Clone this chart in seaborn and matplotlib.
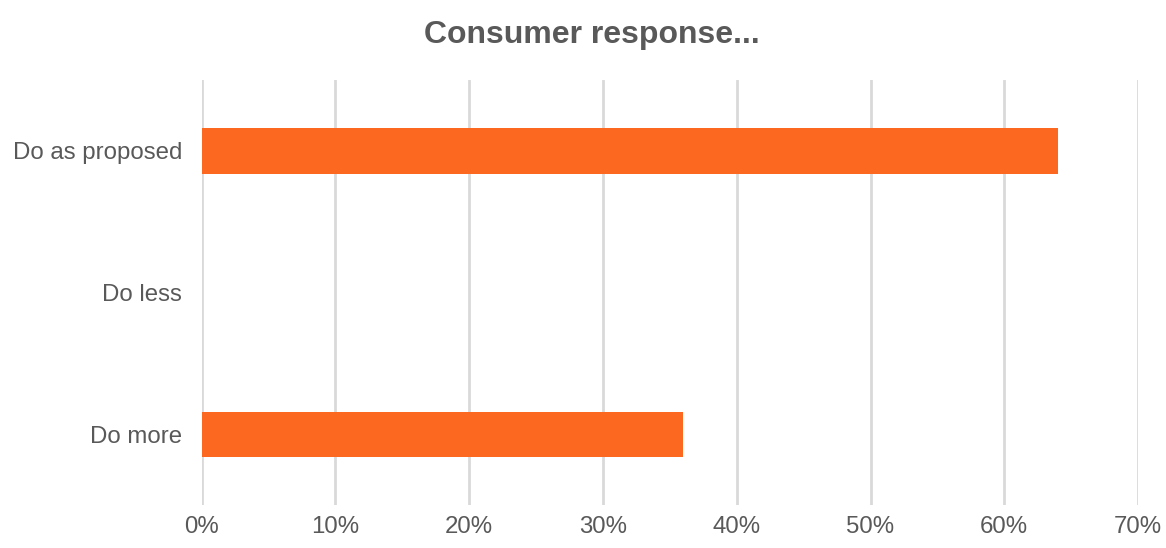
import matplotlib
matplotlib.use('Agg')
import matplotlib.pyplot as plt
import pandas as pd
import seaborn as sns
from matplotlib.ticker import PercentFormatter

# Data
categories = ['Do as proposed', 'Do less', 'Do more']
shares = [0.64, 0.0, 0.36]
x_ticks = [0, 0.1, 0.2, 0.3, 0.4, 0.5, 0.6, 0.7]

df = pd.DataFrame({'response': categories, 'share': shares})

sns.set_style('white')
plt.rcParams['font.family'] = ['Liberation Sans', 'DejaVu Sans']

text_color = '#595959'
bar_color = '#FD6820'

fig = plt.figure(figsize=(11.66, 5.48), dpi=100)
ax = fig.add_axes([0.173, 0.078, 0.803, 0.776])

sns.barplot(data=df, x='share', y='response', color=bar_color,
            width=0.32, saturation=1, linewidth=0, ax=ax, zorder=3)

ax.set_xlim(0, 0.7)
ax.set_ylim(2.5, -0.5)
ax.set_xticks(x_ticks)
ax.xaxis.set_major_formatter(PercentFormatter(1.0, decimals=0))
ax.grid(axis='x', color='#D9D9D9', linewidth=2, zorder=0)
ax.grid(axis='y', visible=False)
for s in ax.spines.values():
    s.set_visible(False)
ax.tick_params(axis='both', length=0, labelsize=17.3, labelcolor=text_color)
ax.tick_params(axis='x', pad=8)
ax.tick_params(axis='y', pad=14)
ax.set_xlabel('')
ax.set_ylabel('')

fig.suptitle('Consumer response...', x=0.508, y=0.937, fontsize=23,
             fontweight='bold', color=text_color, va='center')

fig.savefig('out.png', dpi=100)
